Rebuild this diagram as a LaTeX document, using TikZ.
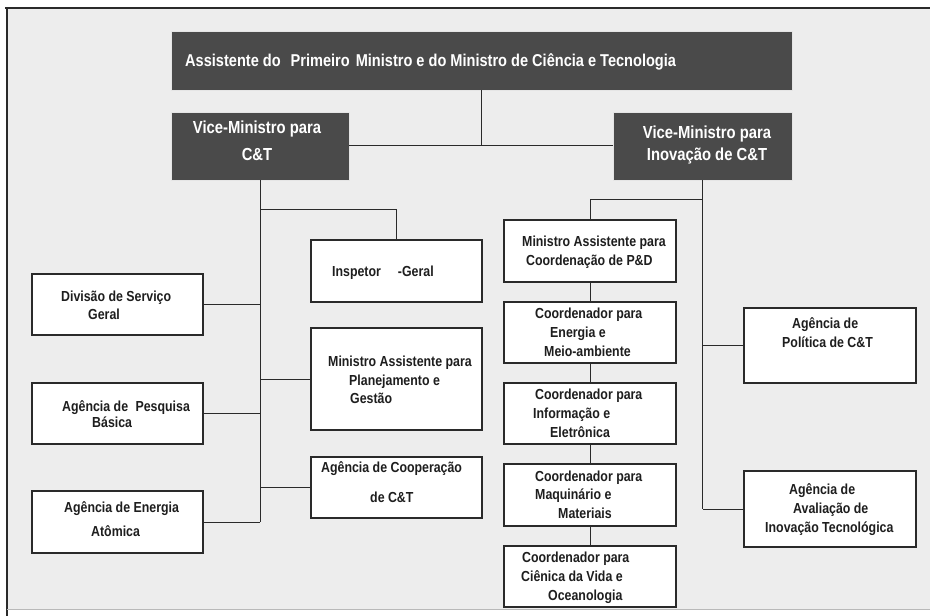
\documentclass[tikz,border=0pt]{standalone}
\usepackage{fontspec}
\setmainfont{Liberation Sans}[FakeStretch=0.85]
\definecolor{bg}{HTML}{EDEDED}
\definecolor{darkbox}{HTML}{4A4A4A}
\definecolor{linec}{HTML}{2A2A2A}
\definecolor{textc}{HTML}{1E1E1E}
\newcounter{lnc}
\newcommand\tline[3]{\stepcounter{lnc}\node[txt] (t\thelnc) at (#1,#2) {#3};}
\newcommand\wline[3]{\stepcounter{lnc}\node[wtxt] (t\thelnc) at (#1,#2) {#3};}
\begin{document}
\begin{tikzpicture}[x=1bp,y=-1bp,
  box/.style={draw=linec, line width=1.1bp, fill=white, inner sep=0pt},
  dbox/.style={fill=darkbox, draw=white!80!gray, line width=0.8bp, inner sep=0pt},
  txt/.style={font=\bfseries\fontsize{14.6}{17}\selectfont, text=textc, inner sep=0pt, anchor=base west},
  wtxt/.style={font=\bfseries\fontsize{17.5}{20}\selectfont, text=white, inner sep=0pt, anchor=base},
  conn/.style={draw=linec, line width=1bp}]
\useasboundingbox (0,0) rectangle (930,616);
\fill[white] (0,0) rectangle (930,616);
\fill[bg] (7,8) rectangle (930,609);
\draw[linec, line width=1.5bp] (5,8) -- (930,8);
\draw[linec, line width=1.5bp] (7,8) -- (7,616);
\draw[gray!55, line width=1bp] (7,609) -- (930,609);

% dark boxes
\node[dbox, minimum width=621bp, minimum height=59bp] (top) at (481.5,60.5) {};
\node[dbox, minimum width=178bp, minimum height=68bp] (vmL) at (260,146) {};
\node[dbox, minimum width=179bp, minimum height=68bp] (vmR) at (702.5,146) {};

% white boxes
\node[box, minimum width=171bp, minimum height=61bp] (div) at (117.5,304.5) {};
\node[box, minimum width=171bp, minimum height=61bp] (pesq) at (117.5,413.5) {};
\node[box, minimum width=171bp, minimum height=62bp] (ener) at (117.5,522) {};
\node[box, minimum width=171bp, minimum height=62bp] (insp) at (396.5,271) {};
\node[box, minimum width=171bp, minimum height=102bp] (plan) at (396.5,379) {};
\node[box, minimum width=171bp, minimum height=61bp] (coop) at (396.5,487.5) {};
\node[box, minimum width=172bp, minimum height=62bp] (pd) at (590,251) {};
\node[box, minimum width=172bp, minimum height=61bp] (en) at (590,332.5) {};
\node[box, minimum width=172bp, minimum height=61bp] (inf) at (590,413.5) {};
\node[box, minimum width=172bp, minimum height=62bp] (maq) at (590,495) {};
\node[box, minimum width=172bp, minimum height=61bp] (cien) at (590,576.5) {};
\node[box, minimum width=172bp, minimum height=75bp] (pol) at (830,345.5) {};
\node[box, minimum width=172bp, minimum height=76bp] (aval) at (830,509) {};

% connectors
\draw[conn] (top.south) -- (top.south |- vmL.east);
\draw[conn] (vmL.east) -- (vmR.west);
\draw[conn] (vmL.south) -- (vmL.south |- ener.east);
\coordinate (jI) at (260,210);
\draw[conn] (jI) -| (insp.north);
\draw[conn] (div.east) -- (div.east -| vmL.south);
\draw[conn] (pesq.east) -- (pesq.east -| vmL.south);
\draw[conn] (ener.east) -- (ener.east -| vmL.south);
\draw[conn] (plan.west) -- (plan.west -| vmL.south);
\draw[conn] (coop.west) -- (coop.west -| vmL.south);
\draw[conn] (vmR.south) -- (vmR.south |- aval.west);
\coordinate (jR) at (702.5,200);
\draw[conn] (jR) -| (pd.north);
\draw[conn] (pol.west) -- (pol.west -| vmR.south);
\draw[conn] (aval.west) -- (aval.west -| vmR.south);
\draw[conn] (pd.south) -- (en.north);
\draw[conn] (en.south) -- (inf.north);
\draw[conn] (inf.south) -- (maq.north);
\draw[conn] (maq.south) -- (cien.north);

% texts
\stepcounter{lnc}\node[font=\bfseries\fontsize{17.2}{20}\selectfont, text=white, inner sep=0pt, anchor=base west] (t\thelnc) at (185,66.5) {Assistente do\hspace{10bp}Primeiro\hspace{6bp}Ministro e do Ministro de Ciência e Tecnologia};
\wline{257}{134}{Vice-Ministro para}
\wline{257}{161}{C\&T}
\wline{707}{139}{Vice-Ministro para}
\wline{707}{161}{Inovação de C\&T}

\tline{61}{301.5}{Divisão de Serviço}
\tline{88}{319.5}{Geral}
\tline{62}{411.5}{Agência de\hspace{4bp} Pesquisa}
\tline{92}{427.5}{Básica}
\tline{64}{512.5}{Agência de Energia}
\tline{91}{536.5}{Atômica}
\tline{332}{276.5}{Inspetor\hspace{17bp}-Geral}
\tline{328}{366.5}{Ministro Assistente para}
\tline{349}{385.5}{Planejamento e}
\tline{350}{403.5}{Gestão}
\tline{321}{472.5}{Agência de Cooperação}
\tline{370}{502.5}{de C\&T}
\tline{522}{246.5}{Ministro Assistente para}
\tline{526}{265.5}{Coordenação de P\&D}
\tline{535}{318.5}{Coordenador para}
\tline{550}{337.5}{Energia e}
\tline{544}{356.5}{Meio-ambiente}
\tline{535}{399.5}{Coordenador para}
\tline{533}{418.5}{Informação e}
\tline{550}{437.5}{Eletrônica}
\tline{535}{481.5}{Coordenador para}
\tline{535}{499.5}{Maquinário e}
\tline{558}{518.5}{Materiais}
\tline{522}{562.5}{Coordenador para}
\tline{521}{581.5}{Ciênica da Vida e}
\tline{548}{600.5}{Oceanologia}
\tline{792}{328.5}{Agência de}
\tline{782}{347.5}{Política de C\&T}
\tline{789}{494.5}{Agência de}
\tline{793}{513.5}{Avaliação de}
\tline{765}{532.5}{Inovação Tecnológica}
\end{tikzpicture}
\end{document}
